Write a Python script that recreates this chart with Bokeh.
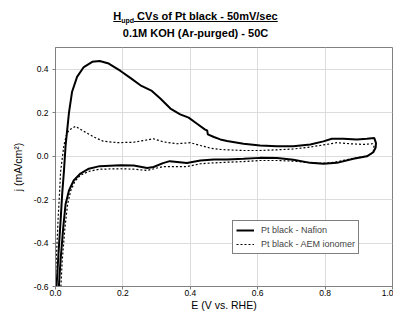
from bokeh.plotting import figure
from bokeh.models import (Range1d, FixedTicker, NumeralTickFormatter, Legend, LegendItem, Div)
from bokeh.layouts import column
from bokeh.embed import file_html
from bokeh.resources import INLINE

# ---------------- data ----------------
nafion_E = [0.003, 0.010, 0.015, 0.020, 0.025, 0.030, 0.040, 0.049, 0.064, 0.084, 0.109, 0.131,
            0.158, 0.193, 0.222, 0.252, 0.286, 0.311, 0.341, 0.370, 0.395, 0.420, 0.444, 0.450,
            0.452, 0.470, 0.489, 0.509, 0.558, 0.607, 0.657, 0.706, 0.756, 0.795, 0.820, 0.854,
            0.894, 0.924, 0.946, 0.951, 0.950, 0.943,
            0.924, 0.884, 0.835, 0.795, 0.756, 0.706, 0.657, 0.607, 0.558, 0.509, 0.470, 0.430,
            0.390, 0.339, 0.319, 0.291, 0.272, 0.232, 0.193, 0.131, 0.099, 0.074, 0.054, 0.040,
            0.030, 0.023, 0.015, 0.010]
nafion_j = [-0.60, -0.42, -0.30, -0.17, -0.07, 0.05, 0.20, 0.295, 0.365, 0.410, 0.434, 0.438,
            0.426, 0.392, 0.360, 0.326, 0.300, 0.265, 0.219, 0.192, 0.177, 0.149, 0.122, 0.118,
            0.100, 0.088, 0.077, 0.070, 0.057, 0.049, 0.045, 0.046, 0.054, 0.068, 0.080, 0.080,
            0.077, 0.080, 0.083, 0.060, 0.040, 0.018,
            -0.001, -0.012, -0.031, -0.035, -0.031, -0.017, -0.009, -0.008, -0.012, -0.015, -0.015, -0.020,
            -0.032, -0.023, -0.032, -0.050, -0.055, -0.043, -0.042, -0.046, -0.058, -0.080, -0.112, -0.158,
            -0.220, -0.328, -0.480, -0.600]

aem_E = [0.000, 0.004, 0.008, 0.012, 0.015, 0.020, 0.025, 0.032, 0.040, 0.059, 0.084, 0.114,
         0.141, 0.183, 0.232, 0.262, 0.291, 0.319, 0.360, 0.400, 0.430, 0.459, 0.489, 0.509,
         0.558, 0.607, 0.657, 0.706, 0.756, 0.805, 0.835, 0.874, 0.914, 0.941, 0.945, 0.943, 0.930,
         0.900, 0.860, 0.820, 0.790, 0.756, 0.706, 0.657, 0.607, 0.558, 0.509, 0.459, 0.430,
         0.390, 0.319, 0.272, 0.232, 0.193, 0.131, 0.099, 0.074, 0.058, 0.045, 0.036, 0.028,
         0.020, 0.016]
aem_j = [-0.55, -0.42, -0.28, -0.17, -0.074, -0.01, 0.05, 0.095, 0.120, 0.137, 0.114, 0.088,
         0.069, 0.062, 0.064, 0.072, 0.080, 0.066, 0.057, 0.062, 0.049, 0.037, 0.031, 0.029,
         0.026, 0.026, 0.029, 0.033, 0.042, 0.054, 0.062, 0.057, 0.054, 0.057, 0.045, 0.020, 0.003,
         -0.006, -0.018, -0.030, -0.033, -0.030, -0.023, -0.020, -0.020, -0.025, -0.028, -0.032, -0.035,
         -0.048, -0.048, -0.066, -0.060, -0.058, -0.060, -0.070, -0.088, -0.115, -0.160, -0.220, -0.330,
         -0.480, -0.600]

x_ticks = [0.0, 0.2, 0.4, 0.6, 0.8, 1.0]
y_ticks = [-0.6, -0.4, -0.2, 0.0, 0.2, 0.4]
series_labels = ["Pt black - Nafion", "Pt black - AEM ionomer"]
title_main = "CVs of Pt black - 50mV/sec"
title_sub = "0.1M KOH (Ar-purged) - 50C"

FONT = "Liberation Sans"
W = 393
TOP = 46          # height of the title block
PH = 320 - TOP    # figure height
L, R, T, B = 55, 1, 1, 34

title = Div(
    text=(f'<div style="font-family:\'{FONT}\';font-weight:bold;font-size:11px;'
          f'line-height:17px;text-align:center;color:black;margin:0;'
          f'padding:8px 1px 0 {L}px;width:{W - L - 1}px;">'
          f'<span style="text-decoration:underline;">H<span style="font-size:7px;'
          f'vertical-align:-3px;line-height:0;">upd</span> {title_main}</span><br>'
          f'{title_sub}</div>'),
    width=W, height=TOP, margin=(0, 0, 0, 0))

p = figure(width=W, height=PH, output_backend="svg", toolbar_location=None,
           x_range=Range1d(0, 1), y_range=Range1d(-0.6, 0.5),
           min_border_left=L, min_border_right=R, min_border_top=T, min_border_bottom=B,
           margin=(0, 0, 0, 0))
p.background_fill_color = "white"
p.border_fill_color = "white"
p.outline_line_color = "#808080"
p.outline_line_width = 1

for ax in (p.xaxis[0], p.yaxis[0]):
    ax.axis_line_color = "#808080"
    ax.major_tick_line_color = "#808080"
    ax.major_tick_out = 3
    ax.major_tick_in = 0
    ax.minor_tick_line_color = None
    ax.major_label_text_font = FONT
    ax.major_label_text_font_size = "8.5px"
    ax.major_label_text_color = "black"
    ax.axis_label_text_font = FONT
    ax.axis_label_text_font_style = "normal"
    ax.axis_label_text_font_size = "10.5px"
    ax.axis_label_text_color = "black"
    ax.formatter = NumeralTickFormatter(format="0.0")

p.xaxis[0].major_label_standoff = 0
p.yaxis[0].major_label_standoff = 4
p.xaxis[0].ticker = FixedTicker(ticks=x_ticks)
p.yaxis[0].ticker = FixedTicker(ticks=y_ticks)
p.xaxis[0].axis_label = "E (V vs. RHE)"
p.yaxis[0].axis_label = "j (mA/cm²)"
p.xaxis[0].axis_label_standoff = 0
p.yaxis[0].axis_label_standoff = 7

p.xgrid.ticker = FixedTicker(ticks=x_ticks)
p.ygrid.ticker = FixedTicker(ticks=y_ticks + [0.5])
p.grid.grid_line_color = "#dcdcdc"
p.grid.grid_line_width = 1

r1 = p.line(nafion_E, nafion_j, line_color="black", line_width=2)
r2 = p.line(aem_E, aem_j, line_color="black", line_width=1.2, line_dash="2 2")

legend = Legend(items=[LegendItem(label=series_labels[0], renderers=[r1]),
                       LegendItem(label=series_labels[1], renderers=[r2])],
                location=(177, 32))
legend.label_text_font = FONT
legend.label_text_font_size = "9px"
legend.glyph_width = 18
legend.glyph_height = 12
legend.label_height = 12
legend.label_standoff = 7
legend.spacing = 2
legend.padding = 3
legend.margin = 0
legend.border_line_color = "black"
legend.border_line_width = 1
legend.background_fill_alpha = 1
p.add_layout(legend, "center")

layout = column(title, p, spacing=0, margin=(0, 0, 0, 0))
open("out.html", "w").write(file_html(layout, INLINE))
